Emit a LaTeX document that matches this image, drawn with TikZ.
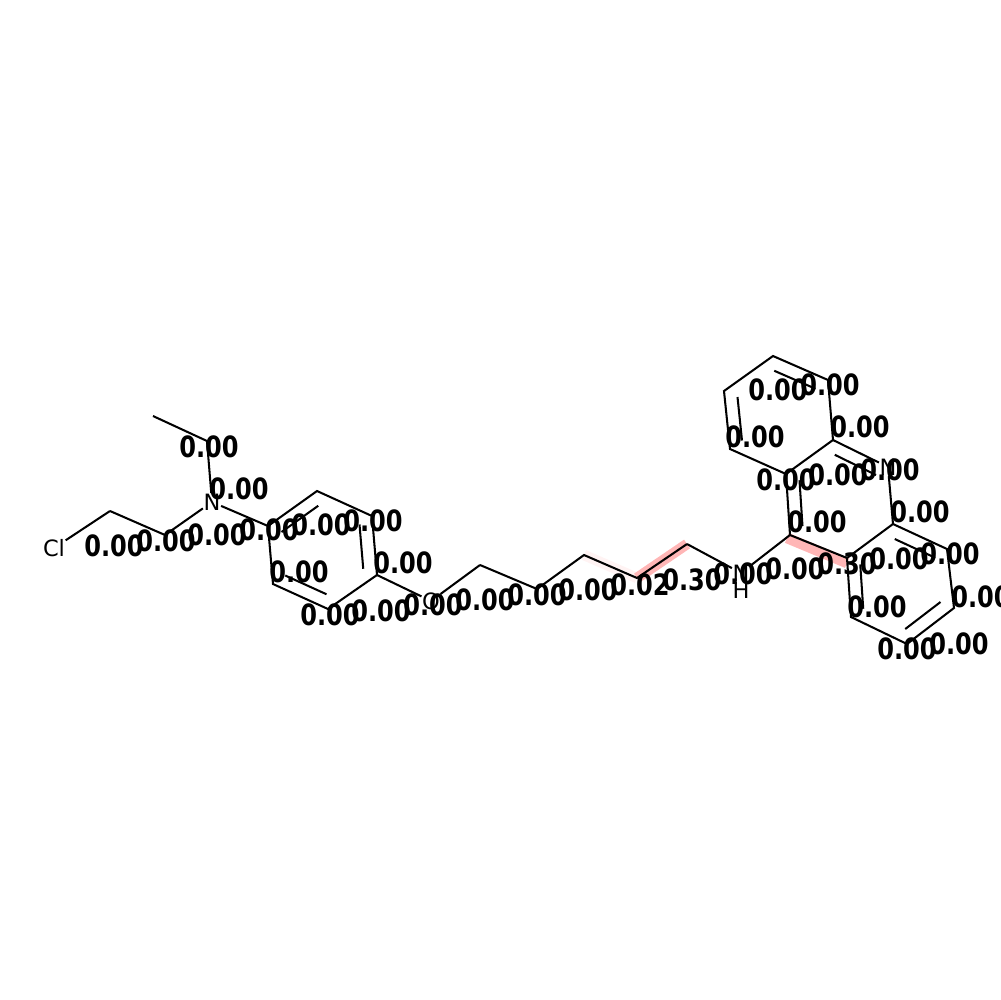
\documentclass[tikz,border=0pt]{standalone}
\usepackage{fontspec}
\setmainfont{DejaVu Sans}
\newfontfamily\scorefont[FakeStretch=0.82]{DejaVu Sans Bold}
\usetikzlibrary{calc}
\definecolor{hilite}{RGB}{255,182,182}
\definecolor{hilitefaint}{RGB}{255,243,243}
\tikzset{
  bond/.style={draw=black,line width=0.58pt},
  glow/.style={draw=hilite,line width=3pt},
  glowfaint/.style={draw=hilitefaint,line width=3pt},
  atom/.style={font=\fontsize{6.4}{7}\selectfont,inner sep=0pt},
  score/.style={font=\fontsize{8.35}{9}\scorefont\bfseries,inner sep=0pt,yshift=0.15mm}
}
\newcommand{\innerbond}[3]{\draw[bond] ($(#1)!0.25!(#3)$) -- ($(#2)!0.25!(#3)$);}
\begin{document}
\begin{tikzpicture}[x=0.1mm,y=-0.1mm]
\useasboundingbox (0,0) rectangle (1000,1000);
% carbons
\coordinate (me) at (153,416);
\coordinate (et) at (207,441);
\coordinate (ca) at (165,535);
\coordinate (cb) at (110,511);
\coordinate (r1) at (268,526);
\coordinate (r2) at (317,491);
\coordinate (r3) at (372,516);
\coordinate (r4) at (377,575);
\coordinate (r5) at (328,609);
\coordinate (r6) at (273,584);
\coordinate (c3) at (480,565);
\coordinate (c4) at (537,589);
\coordinate (c5) at (584,555);
\coordinate (c6) at (637,578);
\coordinate (c7) at (687,544);
\coordinate (c8) at (790,535);
\coordinate (c9) at (847,558);
\coordinate (c10) at (786,474);
\coordinate (c11) at (833,440);
\coordinate (c12) at (828,380);
\coordinate (c13) at (773,356);
\coordinate (c14) at (724,391);
\coordinate (c15) at (730,449);
\coordinate (c16) at (893,524);
\coordinate (c17) at (947,549);
\coordinate (c18) at (954,608);
\coordinate (c19) at (907,644);
\coordinate (c20) at (851,617);
% ring centres
\coordinate (ringa) at (322,550);
\coordinate (ringb) at (778,415);
\coordinate (ringc) at (900,584);
\coordinate (ringd) at (840,499);
% band ends
\coordinate (glowa) at (787,538);
\coordinate (glowb) at (847,563);
% highlights
\draw[glowfaint] (c5) -- (c6);
\draw[glow] (c6) -- (c7);
\draw[glow] (glowa) -- (glowb);
% hetero atoms
\node[atom] (cl) at (54,548) {Cl};
\node[atom] (na) at (212,502) {N};
\node[atom] (oa) at (431,601) {O};
\node[atom] (nh) at (741,573) {N};
\node[atom] (hh) at (741,590) {H};
\node[atom] (nb) at (888,467) {N};
% bonds
\draw[bond] (me) -- (et);
\draw[bond] (et) -- (na);
\draw[bond] (na) -- (ca);
\draw[bond] (ca) -- (cb);
\draw[bond] (cb) -- (cl);
\draw[bond] (na) -- (r1);
\draw[bond] (r1) -- (r2) -- (r3) -- (r4) -- (r5) -- (r6) -- cycle;
\draw[bond] (r4) -- (oa);
\draw[bond] (oa) -- (c3);
\draw[bond] (c3) -- (c4) -- (c5) -- (c6) -- (c7);
\draw[bond] (c7) -- (nh);
\draw[bond] (nh) -- (c8);
\draw[bond] (c8) -- (c9);
\draw[bond] (c8) -- (c10);
\draw[bond] (c10) -- (c11) -- (c12) -- (c13) -- (c14) -- (c15) -- cycle;
\draw[bond] (c11) -- (nb);
\draw[bond] (nb) -- (c16);
\draw[bond] (c16) -- (c17) -- (c18) -- (c19) -- (c20) -- (c9) -- cycle;
\innerbond{r1}{r2}{ringa}
\innerbond{r3}{r4}{ringa}
\innerbond{r5}{r6}{ringa}
\innerbond{c12}{c13}{ringb}
\innerbond{c14}{c15}{ringb}
\innerbond{c11}{nb}{ringd}
\innerbond{c10}{c8}{ringd}
\innerbond{c16}{c17}{ringc}
\innerbond{c18}{c19}{ringc}
\innerbond{c20}{c9}{ringc}
% scores
\node[score] (s1) at (209,448) {0.00};
\node[score] (s2) at (239,490) {0.00};
\node[score] (s3) at (114,547) {0.00};
\node[score] (s4) at (166,542) {0.00};
\node[score] (s5) at (217,536) {0.00};
\node[score] (s6) at (269,531) {0.00};
\node[score] (s7) at (321,526) {0.00};
\node[score] (s8) at (373,522) {0.00};
\node[score] (s9) at (403,564) {0.00};
\node[score] (s10) at (299,573) {0.00};
\node[score] (s11) at (330,616) {0.00};
\node[score] (s12) at (381,612) {0.00};
\node[score] (s13) at (433,606) {0.00};
\node[score] (s14) at (485,601) {0.00};
\node[score] (s15) at (537,596) {0.00};
\node[score] (s16) at (588,591) {0.00};
\node[score] (s17) at (640,586) {0.02};
\node[score] (s18) at (692,581) {0.30};
\node[score] (s19) at (743,575) {0.00};
\node[score] (s20) at (795,570) {0.00};
\node[score] (s21) at (847,565) {0.30};
\node[score] (s22) at (899,560) {0.00};
\node[score] (s23) at (950,555) {0.00};
\node[score] (s24) at (817,523) {0.00};
\node[score] (s25) at (786,481) {0.00};
\node[score] (s26) at (838,476) {0.00};
\node[score] (s27) at (890,471) {0.00};
\node[score] (s28) at (920,513) {0.00};
\node[score] (s29) at (860,428) {0.00};
\node[score] (s30) at (755,438) {0.00};
\node[score] (s31) at (778,391) {0.00};
\node[score] (s32) at (830,386) {0.00};
\node[score] (s33) at (877,608) {0.00};
\node[score] (s34) at (907,650) {0.00};
\node[score] (s35) at (959,645) {0.00};
\node[score] (s36) at (981,598) {0.00};
\end{tikzpicture}
\end{document}
